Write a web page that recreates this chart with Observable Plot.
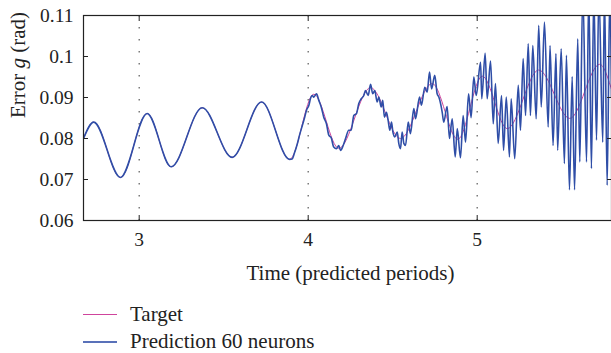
<!DOCTYPE html>
<html><head><meta charset="utf-8">
<script src="https://cdn.jsdelivr.net/npm/d3@7"></script>
<script src="https://cdn.jsdelivr.net/npm/@observablehq/plot@0.6"></script>
<style>
body{margin:0;background:#fff;font-family:'Liberation Serif',serif;color:#222}
#legend{margin-top:6px;padding-left:83px}
.row{display:flex;align-items:center;height:27px;font-size:21px}
.sw{width:34px;margin-right:13px;height:0}
svg text{font-family:'Liberation Serif','Times New Roman',serif}
</style></head><body>
<div id="chart"></div>
<div id="legend"></div>
<script>
const xTicks = [3, 4, 5];
const yTicks = [0.06, 0.07, 0.08, 0.09, 0.1, 0.11];
const xLabel = "Time (predicted periods)";
const yLabelParts = ["Error ", "g", " (rad)"];
const seriesNames = ["Target", "Prediction 60 neurons"];
const seriesColors = ["#cf449c", "#2f4ea7"];

// Target (time in predicted periods, error in rad)
const targetT = [2.6704, 2.731, 2.889, 3.047, 3.189, 3.373, 3.550, 3.724, 3.890, 4.033, 4.181, 4.369, 4.546, 4.734, 4.885, 5.030, 5.178, 5.364, 5.548, 5.725, 5.7947];
const targetV = [0.0800, 0.0840, 0.0705, 0.0861, 0.0731, 0.0875, 0.0754, 0.0889, 0.0749, 0.0908, 0.0776, 0.0924, 0.0800, 0.0934, 0.0798, 0.0952, 0.0824, 0.0967, 0.0849, 0.0981, 0.0920];

// Prediction 60 neurons
const predT = [2.6704, 2.731, 2.889, 3.047, 3.189, 3.373, 3.550, 3.724, 3.890,
  3.905, 3.919, 3.935, 3.950, 3.964, 3.978, 3.990, 4.004, 4.014, 4.024, 4.033, 4.049, 4.063, 4.077, 4.092, 4.108,
  4.122, 4.136, 4.151, 4.167, 4.181, 4.191, 4.207, 4.221, 4.240, 4.254, 4.270, 4.286, 4.299, 4.314, 4.329, 4.339,
  4.355, 4.369, 4.382, 4.394, 4.408, 4.418, 4.432, 4.441, 4.451, 4.463, 4.473, 4.483, 4.493, 4.501, 4.512, 4.527,
  4.536, 4.546, 4.556, 4.566, 4.576, 4.592, 4.605, 4.625, 4.635, 4.659, 4.670, 4.690, 4.704, 4.718, 4.730, 4.749,
  4.763, 4.773, 4.793, 4.802, 4.822, 4.836, 4.852, 4.870, 4.882, 4.901, 4.917, 4.931, 4.949, 4.964, 4.980, 4.994,
  5.020, 5.027, 5.047, 5.059, 5.079, 5.095, 5.108, 5.124, 5.144, 5.156, 5.172, 5.191, 5.201, 5.222, 5.243, 5.256,
  5.272, 5.286, 5.302, 5.315, 5.329, 5.349, 5.364, 5.379, 5.398, 5.420, 5.431, 5.449, 5.466, 5.476, 5.497, 5.516,
  5.528, 5.546, 5.562, 5.576, 5.595, 5.607, 5.625, 5.647, 5.660, 5.676, 5.690, 5.706, 5.720, 5.743, 5.753, 5.769,
  5.785, 5.7947];
const predV = [0.0800, 0.0840, 0.0705, 0.0861, 0.0731, 0.0875, 0.0754, 0.0889, 0.0749,
  0.0750, 0.0765, 0.0786, 0.0810, 0.0830, 0.0850, 0.0869, 0.0881, 0.0898, 0.0905, 0.0901, 0.0909, 0.0893, 0.0877, 0.0852, 0.0836,
  0.0808, 0.0802, 0.0779, 0.0775, 0.0783, 0.0771, 0.0783, 0.0800, 0.0820, 0.0820, 0.0856, 0.0861, 0.0885, 0.0897, 0.0905, 0.0917,
  0.0905, 0.0932, 0.0909, 0.0917, 0.0889, 0.0901, 0.0877, 0.0893, 0.0852, 0.0864, 0.0844, 0.0820, 0.0840, 0.0816, 0.0804, 0.0816,
  0.0788, 0.0775, 0.0816, 0.0788, 0.0783, 0.0840, 0.0812, 0.0873, 0.0848, 0.0901, 0.0881, 0.0925, 0.0913, 0.0962, 0.0921, 0.0954,
  0.0909, 0.0901, 0.0864, 0.0840, 0.0878, 0.0800, 0.0848, 0.0755, 0.0824, 0.0753, 0.0856, 0.0791, 0.0909, 0.0851, 0.0950, 0.0905,
  0.0986, 0.0897, 0.1008, 0.0897, 0.0989, 0.0836, 0.0934, 0.0788, 0.0905, 0.0771, 0.0901, 0.0755, 0.0897, 0.0751, 0.0930, 0.0820,
  0.0995, 0.0856, 0.1031, 0.0856, 0.1027, 0.0848, 0.1076, 0.0877, 0.1084, 0.0828, 0.1027, 0.0783, 0.1007, 0.0771, 0.1019, 0.0739,
  0.1003, 0.0675, 0.0951, 0.0675, 0.1043, 0.0743, 0.1160, 0.0743, 0.1160, 0.0727, 0.1160, 0.0796, 0.1160, 0.0791, 0.1160, 0.0686,
  0.1160, 0.0900];

const target = targetT.map((t, i) => ({t, v: targetV[i]}));
const pred = predT.map((t, i) => ({t, v: predV[i]}));
const font = "'Liberation Serif', 'Times New Roman', serif";

const chart = Plot.plot({
  width: 611, height: 295,
  marginLeft: 83, marginRight: 0, marginTop: 15, marginBottom: 75,
  x: {domain: [2.6704, 5.7947]},
  y: {domain: [0.06, 0.11]},
  style: {fontFamily: font, fontSize: "19.5px", color: "#222", background: "#fff", overflow: "visible"},
  marks: [
    Plot.ruleX(xTicks, {stroke: "#666", strokeWidth: 1.3, strokeDasharray: "1.5,10.5"}),
    Plot.line(target, {x: "t", y: "v", stroke: seriesColors[0], strokeWidth: 1, curve: "monotone-x", clip: true}),
    Plot.line(pred, {x: "t", y: "v", stroke: seriesColors[1], strokeWidth: 1.6, curve: "monotone-x", clip: true}),
    Plot.frame({stroke: "#222", strokeWidth: 1.2}),
    Plot.axisX(xTicks, {anchor: "bottom", tickSize: 5, dy: -5, fill: "none", stroke: "#222", label: null}),
    Plot.axisX(xTicks, {anchor: "top", tickSize: 5, dy: 5, fill: "none", stroke: "#222", label: null}),
    Plot.axisY(yTicks, {anchor: "left", tickSize: 5, dx: 5, fill: "none", stroke: "#222", label: null}),
    Plot.axisY(yTicks, {anchor: "right", tickSize: 5, dx: -5, fill: "none", stroke: "#222", label: null}),
    Plot.axisX(xTicks, {anchor: "bottom", tickSize: 0, tickPadding: 12, stroke: "none", fill: "#222", label: null, fontSize: 19.5, fontFamily: font, fontVariant: "normal", tickFormat: d => String(d)}),
    Plot.axisY(yTicks, {anchor: "left", tickSize: 0, tickPadding: 10, stroke: "none", fill: "#222", label: null, fontSize: 19.5, fontFamily: font, fontVariant: "normal", tickFormat: d => String(d)}),
    Plot.text([xLabel], {text: d => d, frameAnchor: "bottom", dy: 59, dx: 3, lineAnchor: "bottom", fontSize: 21, fontFamily: font, fill: "#222"}),
    Plot.text([yLabelParts.join("")], {text: d => d, frameAnchor: "left", rotate: -90, dx: -65, fontSize: 21, fontFamily: font, fill: "#222"})
  ]
});
document.getElementById("chart").appendChild(chart);

// italic g in the y label
chart.querySelectorAll("text").forEach(t => {
  if (t.textContent === yLabelParts.join("")) {
    t.textContent = "";
    yLabelParts.forEach((p, i) => {
      const ts = document.createElementNS("http://www.w3.org/2000/svg", "tspan");
      ts.textContent = p;
      if (i === 1) ts.setAttribute("font-style", "italic");
      t.appendChild(ts);
    });
  }
});

const legend = d3.select("#legend");
seriesNames.forEach((name, i) => {
  const row = legend.append("div").attr("class", "row");
  row.append("div").attr("class", "sw")
    .style("border-top", `${i === 0 ? 1 : 2}px solid ${seriesColors[i]}`)
    .style("opacity", i === 0 ? 1 : 0.8);
  row.append("span").text(name);
});
</script>
</body></html>
